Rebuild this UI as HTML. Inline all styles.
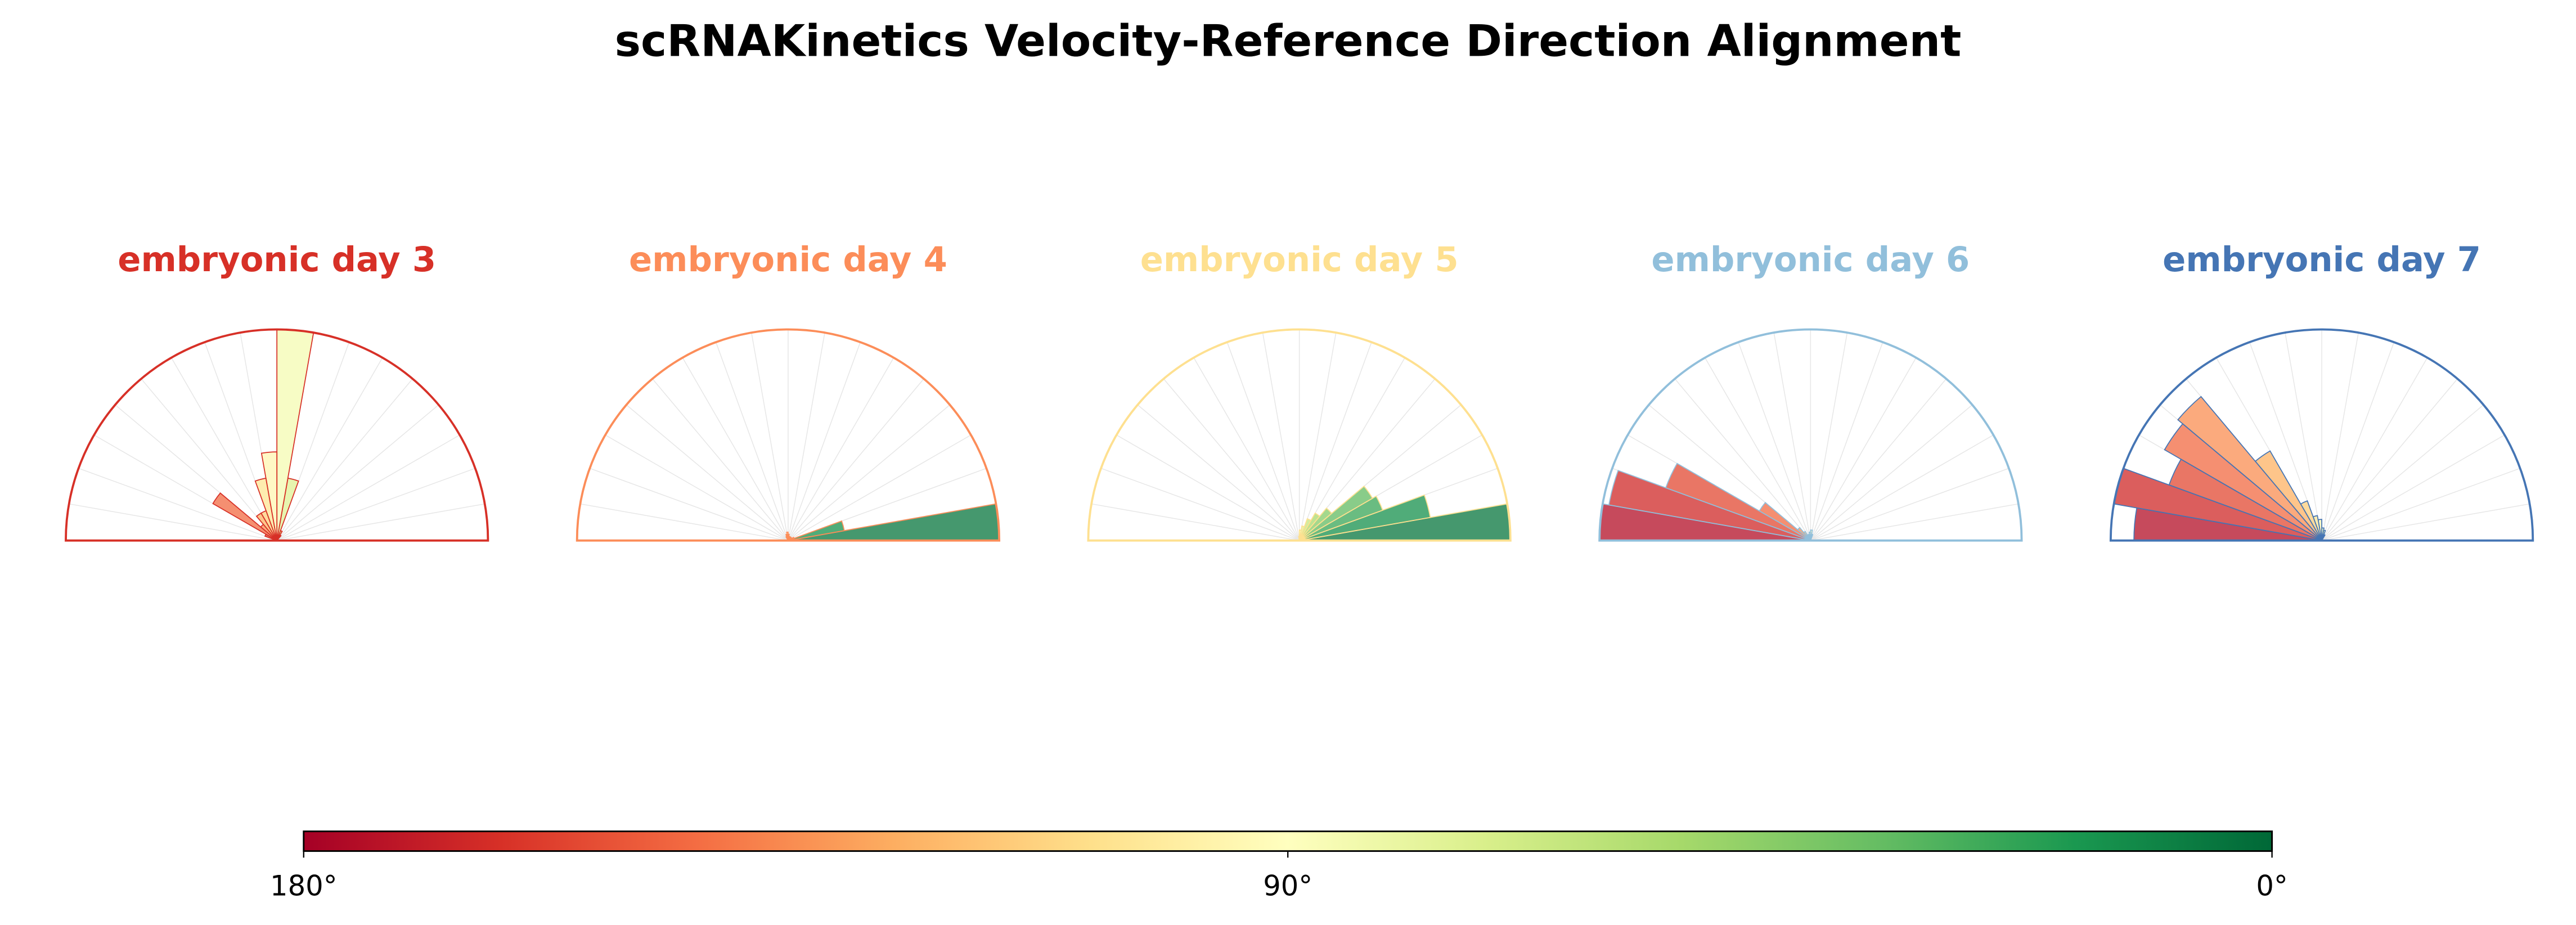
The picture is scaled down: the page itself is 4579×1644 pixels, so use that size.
<!DOCTYPE html>
<html><head><meta charset="utf-8"><style>
html,body{margin:0;padding:0;background:#fff;}
svg{display:block;font-family:"DejaVu Sans","Liberation Sans",sans-serif;}
</style></head><body>
<svg id="chart" width="4579" height="1644" viewBox="0 0 1568 563" xmlns="http://www.w3.org/2000/svg">
<defs><linearGradient id="cmap" x1="0" x2="1" y1="0" y2="0"></linearGradient></defs>
<text x="784" y="34" text-anchor="middle" font-size="26.7" font-weight="bold" fill="#000">scRNAKinetics Velocity-Reference Direction Alignment</text>
<g id="panels"></g>
<g id="colorbar"></g>
</svg>
<script>
// Data
const panelTitles = ["embryonic day 3","embryonic day 4","embryonic day 5","embryonic day 6","embryonic day 7"];
const panelColors = ["#d73027","#fc8d59","#fee090","#91bfdb","#4575b4"];
// bin start angles (degrees), 10° bins from 0 to 170
const binStarts = [0,10,20,30,40,50,60,70,80,90,100,110,120,130,140,150,160,170];
// normalized radius per bin, per panel
const day3 = [0,0,0,0,0,0.03,0.05,0.3,1.0,0.42,0.3,0.15,0.15,0.1,0.35,0.06,0,0];
const day4 = [1.0,0.27,0.03,0.02,0.02,0.02,0.02,0.02,0.03,0.04,0.03,0.02,0,0,0,0,0,0];
const day5 = [1.0,0.63,0.42,0.40,0.20,0.15,0.11,0.07,0.05,0.02,0,0,0,0,0,0,0,0];
const day6 = [0,0,0,0,0,0,0,0.03,0.05,0.04,0.03,0.03,0.05,0.08,0.28,0.73,0.97,1.0];
const day7 = [0,0,0,0,0,0,0.03,0.05,0.06,0.1,0.12,0.2,0.49,0.89,0.86,0.77,1.0,0.89];
const series = [day3,day4,day5,day6,day7];
const cbTicks = ["180°","90°","0°"];
const cbTickVals = [180,90,0];

const cmapStops = ["#a50026","#d73027","#f46d43","#fdae61","#fee08b","#ffffbf","#d9ef8b","#a6d96a","#66bd63","#1a9850","#006837"];
function hex(c){return [parseInt(c.substr(1,2),16),parseInt(c.substr(3,2),16),parseInt(c.substr(5,2),16)];}
function cmap(t){t=Math.max(0,Math.min(1,t));const p=t*10,i=Math.min(9,Math.floor(p)),f=p-i;
 const a=hex(cmapStops[i]),b=hex(cmapStops[i+1]);return "rgb("+a.map((v,k)=>Math.round(v+(b[k]-v)*f)).join(",")+")";}

const NS="http://www.w3.org/2000/svg";
function mk(tag,attrs,parent){const e=document.createElementNS(NS,tag);for(const k in attrs)e.setAttribute(k,attrs[k]);parent.appendChild(e);return e;}

const R=128.5, CY=329, CX0=168.5, DX=311.2;
const panels=document.getElementById("panels");
function px(cx,deg,r){return cx+Math.cos(deg*Math.PI/180)*r*R;}
function py(deg,r){return CY-Math.sin(deg*Math.PI/180)*r*R;}

series.forEach((vals,p)=>{
  const cx=CX0+p*DX, col=panelColors[p];
  const g=mk("g",{},panels);
  
  
  const t=mk("text",{x:cx,y:165,"text-anchor":"middle","font-size":20.8,"font-weight":"bold",fill:col},g);
  t.textContent=panelTitles[p];
  
  
  for(let a=0;a<=180;a+=10){
    const l=mk("line",{x1:cx,y1:CY,x2:px(cx,a,1),y2:py(a,1),stroke:"#e6e6e6","stroke-width":0.5},g);
    
    
  }
  binStarts.forEach((a0,i)=>{
    const r=vals[i]; if(r<=0) return;
    const a1=a0+10;
    const d="M"+cx+","+CY+" L"+px(cx,a0,r)+","+py(a0,r)+" A"+(r*R)+","+(r*R)+" 0 0 0 "+px(cx,a1,r)+","+py(a1,r)+" Z";
    const b=mk("path",{d:d,fill:cmap(1-(a0+5)/180),"fill-opacity":0.75,stroke:col,"stroke-width":0.6},g);
    
    
  });
  const f=mk("path",{d:"M"+(cx-R)+","+CY+" A"+R+","+R+" 0 0 1 "+(cx+R)+","+CY+" Z",fill:"none",stroke:col,"stroke-width":1.3},g);
  
  
});

// colorbar
const grad=document.getElementById("cmap");
for(let i=0;i<=20;i++){mk("stop",{offset:(i/20),"stop-color":cmap(i/20)},grad);}
const cb=document.getElementById("colorbar");
const CBX0=184.8, CBX1=1383, CBY=506, CBH=12;
const rect=mk("rect",{x:CBX0,y:CBY,width:CBX1-CBX0,height:CBH,fill:"url(#cmap)",stroke:"#000","stroke-width":1},cb);


function cbx(v){return CBX0+(180-v)/180*(CBX1-CBX0);}
cbTickVals.forEach((v,i)=>{
  const x=cbx(v);
  const tk=mk("line",{x1:x,y1:CBY+CBH,x2:x,y2:CBY+CBH+4,stroke:"#000","stroke-width":0.8},cb);
  
  
  const tl=mk("text",{x:x,y:545,"text-anchor":"middle","font-size":17,fill:"#000"},cb);
  tl.textContent=cbTicks[i];
  
  
});
</script>
</body></html>
